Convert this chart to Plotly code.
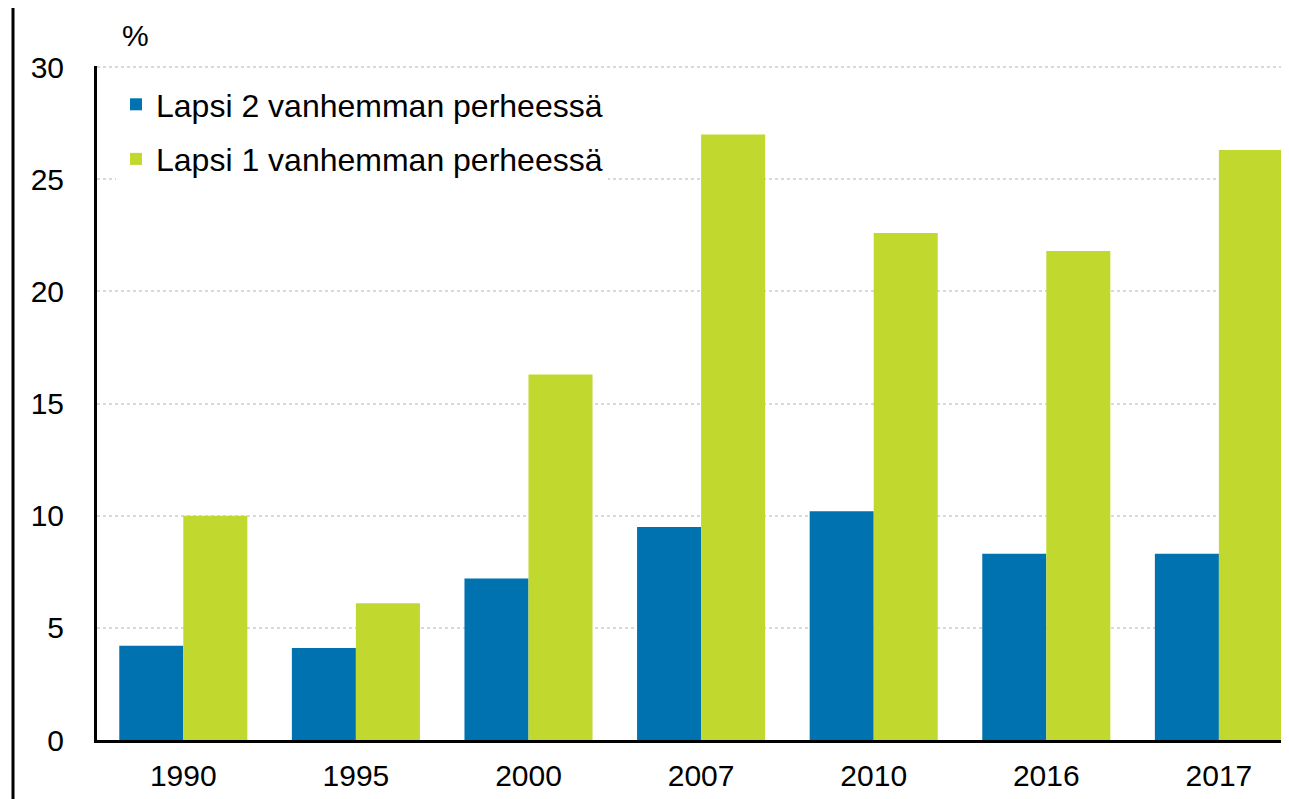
import plotly.graph_objects as go

years = ["1990", "1995", "2000", "2007", "2010", "2016", "2017"]
two_parent = [4.2, 4.1, 7.2, 9.5, 10.2, 8.3, 8.3]
one_parent = [10.0, 6.1, 16.3, 27.0, 22.6, 21.8, 26.3]
names = ["Lapsi 2 vanhemman perheessä", "Lapsi 1 vanhemman perheessä"]
colors = ["#0072B0", "#C1D82F"]

# page body has an 8px margin; figure is sized to fit the window
OFF = 8
W, H = 1289 - OFF, 799 - OFF
L, T = 97 - OFF, 66 - OFF
R = W - (1287 - OFF)
B = H - (740 - OFF)
pw = W - L - R
ph = H - T - B

fig = go.Figure()
fig.add_trace(go.Bar(x=years, y=two_parent, name=names[0], marker_color=colors[0],
                     marker_line_width=0, legendgroup="a"))
fig.add_trace(go.Bar(x=years, y=one_parent, name=names[1], marker_color=colors[1],
                     marker_line_width=0, legendgroup="b"))

font = "Liberation Sans, Arial, sans-serif"
fig.update_layout(
    width=W, height=H,
    margin=dict(l=L, r=R, t=T, b=B),
    plot_bgcolor="white", paper_bgcolor="white",
    barmode="group", bargap=0.258, bargroupgap=0,
    font=dict(family=font, size=30, color="#000"),
    showlegend=True,
    legend=dict(x=(116 - 97) / pw, y=1 - (77 - 66) / ph, xanchor="left", yanchor="top",
                bgcolor="white", font=dict(size=32),
                traceorder="grouped", tracegroupgap=10,
                itemwidth=30),
    xaxis=dict(range=[-0.5, -0.5 + pw / 172.6], showgrid=False,
               showline=True, linecolor="black", linewidth=3,
               ticks="", tickfont=dict(size=30), ticklabelstandoff=7),
    yaxis=dict(range=[0, 30.05], tickvals=[0, 5, 10, 15, 20, 25, 30],
               showgrid=True, gridcolor="#d9d9d9", gridwidth=2, griddash="dot",
               showline=True, linecolor="black", linewidth=3,
               ticks="", tickfont=dict(size=30), ticklabelstandoff=24,
               zeroline=False),
    annotations=[dict(text="%", xref="paper", yref="paper",
                      x=(135 - 97) / pw, y=1 + (66 - 36) / ph,
                      xanchor="center", yanchor="middle", showarrow=False,
                      font=dict(size=30))],
    shapes=[dict(type="line", xref="paper", yref="paper",
                 x0=(13 - 97) / pw, x1=(13 - 97) / pw,
                 y0=-(B + 20) / ph, y1=1 + (66 - 6) / ph,
                 line=dict(color="black", width=3))],
)

fig.write_html("out.html")
